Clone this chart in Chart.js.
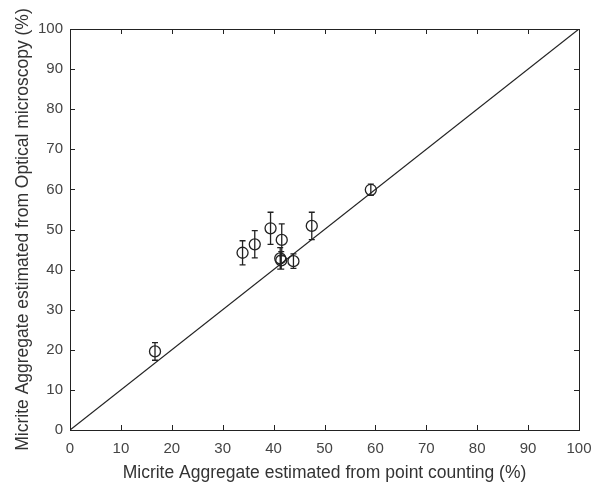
<!DOCTYPE html>
<html>
<head>
<meta charset="utf-8">
<script src="https://cdn.jsdelivr.net/npm/chart.js@4/dist/chart.umd.min.js"></script>
<style>
  html, body { margin: 0; padding: 0; background: #fff; }
  #wrap { width: 597px; height: 485px; }
</style>
</head>
<body>
<div id="wrap"><canvas id="scatter"></canvas></div>
<script>
// point counting (x) vs optical microscopy (y), with +/- error
const pointCounting = [16.7, 33.9, 36.3, 39.4, 41.6, 41.3, 41.5, 43.9, 47.5, 59.1];
const opticalMicro  = [19.6, 44.2, 46.3, 50.3, 47.4, 42.8, 42.3, 42.1, 50.9, 59.9];
const errorBars     = [2.2, 3.0, 3.4, 4.0, 4.0, 2.7, 2.2, 1.8, 3.4, 1.4];
const tickValues    = [0, 10, 20, 30, 40, 50, 60, 70, 80, 90, 100];
const oneToOne      = [0, 100];

const ink = '#222';
const labelGrey = '#444';

const points = pointCounting.map((x, i) => ({ x: x, y: opticalMicro[i] }));
const diagonal = oneToOne.map(v => ({ x: v, y: v }));

// box around the axes, inward tick marks and the vertical error bars
const matlabAxes = {
  id: 'matlabAxes',
  afterDatasetsDraw(chart) {
    const { ctx, chartArea: a, scales: { x, y } } = chart;
    ctx.save();
    ctx.strokeStyle = ink;
    ctx.lineWidth = 1;
    ctx.strokeRect(a.left + 0.5, a.top + 0.5, a.right - a.left, a.bottom - a.top);

    ctx.beginPath();
    tickValues.forEach(v => {
      const px = Math.round(x.getPixelForValue(v)) + 0.5;
      ctx.moveTo(px, a.bottom); ctx.lineTo(px, a.bottom - 5);
      ctx.moveTo(px, a.top);    ctx.lineTo(px, a.top + 5);
      const py = Math.round(y.getPixelForValue(v)) + 0.5;
      ctx.moveTo(a.left, py);  ctx.lineTo(a.left + 5, py);
      ctx.moveTo(a.right, py); ctx.lineTo(a.right - 5, py);
    });
    ctx.stroke();

    ctx.lineWidth = 1.3;
    ctx.beginPath();
    points.forEach((p, i) => {
      const px = x.getPixelForValue(p.x);
      const top = y.getPixelForValue(p.y + errorBars[i]);
      const bot = y.getPixelForValue(p.y - errorBars[i]);
      ctx.moveTo(px, top); ctx.lineTo(px, bot);
      ctx.moveTo(px - 3, top); ctx.lineTo(px + 3, top);
      ctx.moveTo(px - 3, bot); ctx.lineTo(px + 3, bot);
    });
    ctx.stroke();
    ctx.restore();
  }
};

new Chart(document.getElementById('scatter'), {
  type: 'scatter',
  data: {
    datasets: [
      {
        label: '1:1',
        data: diagonal,
        showLine: true,
        borderColor: ink,
        borderWidth: 1.2,
        pointRadius: 0
      },
      {
        label: 'samples',
        data: points,
        pointStyle: 'circle',
        pointRadius: 5.5,
        borderColor: ink,
        borderWidth: 1.3,
        backgroundColor: 'rgba(0,0,0,0)'
      }
    ]
  },
  options: {
    responsive: true,
    maintainAspectRatio: false,
    animation: false,
    layout: { padding: { top: 29, right: 18, left: 0, bottom: 0 } },
    plugins: { legend: { display: false }, tooltip: { enabled: false } },
    scales: {
      x: {
        type: 'linear',
        min: 0, max: 100,
        afterBuildTicks: s => { s.ticks = tickValues.map(v => ({ value: v })); },
        afterFit: s => { s.height = 55; s.paddingLeft = 0; s.paddingRight = 0; },
        grid: { display: false, drawTicks: false },
        border: { display: false },
        ticks: { color: labelGrey, padding: 10, maxRotation: 0,
                 font: { family: 'Liberation Sans', size: 15 } },
        title: { display: true, text: 'Micrite Aggregate estimated from point counting (%)',
                 color: '#333', padding: { top: 0, bottom: 1 },
                 font: { family: 'Liberation Sans', size: 17.5 } }
      },
      y: {
        type: 'linear',
        min: 0, max: 100,
        afterBuildTicks: s => { s.ticks = tickValues.map(v => ({ value: v })); },
        afterFit: s => { s.width = 70; s.paddingTop = 0; s.paddingBottom = 0; },
        grid: { display: false, drawTicks: false },
        border: { display: false },
        ticks: { color: labelGrey, padding: 7,
                 font: { family: 'Liberation Sans', size: 15 } },
        title: { display: true, text: 'Micrite Aggregate estimated from Optical microscopy (%)',
                 color: '#333', padding: { top: 13, bottom: 0 },
                 font: { family: 'Liberation Sans', size: 17.5 } }
      }
    }
  },
  plugins: [matlabAxes]
});
</script>
</body>
</html>
